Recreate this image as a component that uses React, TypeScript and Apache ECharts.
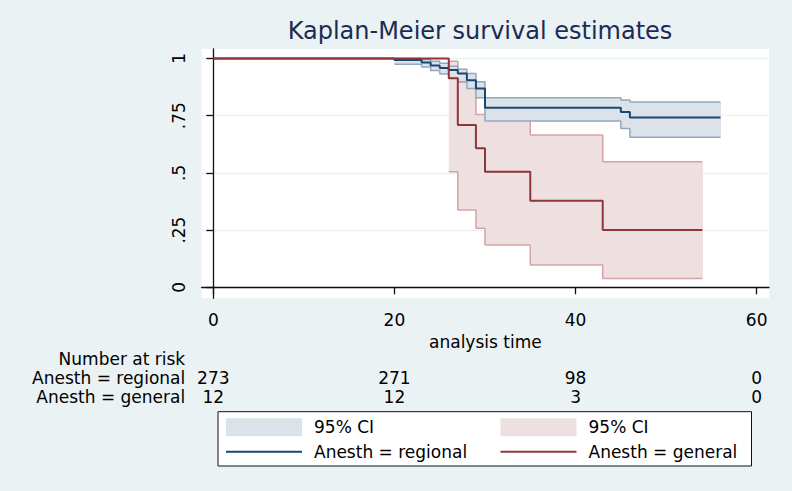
import React, { useEffect, useRef } from "react";
import * as echarts from "echarts";

// ---- data ----
const xTickValues = [0, 20, 40, 60];
const yTickValues = [0, 0.25, 0.5, 0.75, 1];
const yTickLabels = ["0", ".25", ".5", ".75", "1"];

const regionalTime = [0, 20, 23, 24, 25, 26, 27, 28, 29, 30, 45, 46, 56];
const regionalSurv = [1, 0.993, 0.982, 0.969, 0.958, 0.949, 0.934, 0.905, 0.869, 0.784, 0.766, 0.742, 0.742];
const regionalCiTime = [20, 23, 24, 25, 26, 27, 28, 29, 30, 45, 46, 56];
const regionalLower = [0.974, 0.962, 0.947, 0.932, 0.913, 0.898, 0.869, 0.828, 0.727, 0.694, 0.655, 0.655];
const regionalUpper = [0.999, 0.995, 0.988, 0.979, 0.966, 0.953, 0.934, 0.898, 0.828, 0.818, 0.81, 0.81];

const generalTime = [0, 26, 27, 29, 30, 35, 43, 54];
const generalSurv = [1, 0.913, 0.709, 0.607, 0.505, 0.378, 0.25, 0.25];
const generalCiTime = [26, 27, 29, 30, 35, 43, 54];
const generalLower = [0.505, 0.338, 0.258, 0.185, 0.097, 0.039, 0.039];
const generalUpper = [0.988, 0.898, 0.755, 0.752, 0.665, 0.548, 0.548];

const riskTimes = [0, 20, 40, 60];
const regionalAtRisk = [273, 271, 98, 0];
const generalAtRisk = [12, 12, 3, 0];

const rowLabels = ["Anesth = regional", "Anesth = general"];

// ---- styling ----
const FONT = "'DejaVu Sans', sans-serif";
const BG = "#eaf2f3";
const NAVY = "#1a476f";
const MAROON = "#90353b";
const BLUE_FILL = "#dce2ea";
const BLUE_EDGE = "#93a8c0";
const PINK_FILL = "#eedfe0";
const PINK_EDGE = "#d5a2a6";

const pairs = (xs: number[], ys: number[]) => xs.map((x, i) => [x, ys[i]]);
const bandCells = (xs: number[], lo: number[], hi: number[]) =>
  xs.slice(0, -1).map((x, i) => [x, xs[i + 1], lo[i], hi[i]]);

const X_MIN = -1.28;
const X_MAX = 61.36;
const LINE_ICON = "path://M0,0L76,0L76,2L0,2Z";

export default function App() {
  const ref = useRef<HTMLDivElement>(null);
  useEffect(() => {
    if (!ref.current) return;
    const chart = echarts.init(ref.current, null, { renderer: "svg" });
    const textBase = { fontFamily: FONT, fontSize: 17, color: "#000" };
    const riskAxis = (offset: number, name: string, values: number[] | null) => ({
      type: "value",
      gridIndex: 0,
      position: "bottom",
      offset,
      min: X_MIN,
      max: X_MAX,
      name,
      nameLocation: "start",
      nameGap: 16.5,
      nameTextStyle: { ...textBase, align: "right", verticalAlign: "middle" },
      axisLine: { show: false },
      axisTick: { show: false },
      splitLine: { show: false },
      axisLabel: values
        ? {
            show: true,
            customValues: riskTimes,
            margin: 0,
            verticalAlign: "middle",
            ...textBase,
            formatter: (v: number) => String(values[riskTimes.indexOf(v)]),
          }
        : { show: false },
    });

    const band = (name: string, fill: string, z: number, xs: number[], lo: number[], hi: number[]) => ({
      name,
      type: "custom",
      z,
      silent: true,
      itemStyle: { color: fill },
      encode: { x: [0, 1], y: [2, 3] },
      data: bandCells(xs, lo, hi),
      renderItem: (_p: any, api: any) => {
        const a = api.coord([api.value(0), api.value(3)]);
        const b = api.coord([api.value(1), api.value(2)]);
        return {
          type: "rect",
          shape: { x: a[0], y: a[1], width: b[0] - a[0] + 0.6, height: b[1] - a[1] },
          style: { fill, stroke: null },
        };
      },
    });
    const edge = (name: string, color: string, z: number, xs: number[], ys: number[]) => ({
      name,
      type: "line",
      step: "end",
      symbol: "none",
      silent: true,
      z,
      data: pairs(xs, ys),
      lineStyle: { color, width: 1.5 },
      itemStyle: { color },
    });

    chart.setOption({
      animation: false,
      backgroundColor: BG,
      title: {
        text: "Kaplan-Meier survival estimates",
        left: 480,
        top: 19,
        textAlign: "center",
        padding: 0,
        textStyle: { fontFamily: FONT, fontSize: 24, fontWeight: "normal", color: "#1c2b55" },
      },
      grid: {
        left: 201.7,
        right: 23,
        top: 49,
        bottom: 192.7,
        show: true,
        backgroundColor: "#ffffff",
        borderWidth: 0,
        containLabel: false,
      },
      xAxis: [
        {
          type: "value",
          min: X_MIN,
          max: X_MAX,
          name: "analysis time",
          nameLocation: "middle",
          nameGap: 26,
          nameTextStyle: { ...textBase },
          axisLine: { show: true, lineStyle: { color: "#111", width: 1.3 } },
          axisTick: { show: true, customValues: xTickValues, length: 7, lineStyle: { color: "#111", width: 1.3 } },
          axisLabel: { show: true, customValues: xTickValues, margin: 13, ...textBase },
          splitLine: { show: false },
        },
        riskAxis(60.8, "Number at risk", null),
        riskAxis(79.8, rowLabels[0], regionalAtRisk),
        riskAxis(98.8, rowLabels[1], generalAtRisk),
      ],
      yAxis: {
        type: "value",
        min: -0.048,
        max: 1.041,
        axisLine: { show: true, lineStyle: { color: "#111", width: 1.3 } },
        axisTick: { show: true, customValues: yTickValues, length: 7, lineStyle: { color: "#111", width: 1.3 } },
        axisLabel: {
          show: true,
          customValues: yTickValues,
          rotate: 90,
          margin: 14,
          ...textBase,
          formatter: (v: number) => yTickLabels[yTickValues.indexOf(v)] ?? "",
        },
        splitLine: { show: true, lineStyle: { color: BG, width: 1.3 } },
      },
      legend: {
        left: 218,
        top: 411.7,
        width: 520,
        orient: "horizontal",
        padding: [6.5, 8, 5.3, 8],
        itemWidth: 76,
        itemHeight: 18,
        itemGap: 6.5,
        borderColor: "#111",
        borderWidth: 1,
        backgroundColor: "#ffffff",
        selectedMode: false,
        textStyle: { ...textBase, lineHeight: 18, padding: [0, 0, 0, 7] },
        formatter: (name: string) => (name.startsWith("ci") ? "95% CI" : name),
        data: [
          { name: "ciRegional", icon: "rect", itemStyle: { color: BLUE_FILL, borderWidth: 0 }, textStyle: { width: 180 } },
          { name: "ciGeneral", icon: "rect", itemStyle: { color: PINK_FILL, borderWidth: 0 }, textStyle: { width: 155 } },
          { name: rowLabels[0], icon: LINE_ICON, itemStyle: { color: NAVY, borderWidth: 0 }, textStyle: { width: 180 } },
          { name: rowLabels[1], icon: LINE_ICON, itemStyle: { color: MAROON, borderWidth: 0 }, textStyle: { width: 155 } },
        ],
      },
      series: [
        band("ciGeneral", PINK_FILL, 2, generalCiTime, generalLower, generalUpper),
        edge("genLow", PINK_EDGE, 3, generalCiTime, generalLower),
        edge("genUp", PINK_EDGE, 3, generalCiTime, generalUpper),
        band("ciRegional", BLUE_FILL, 4, regionalCiTime, regionalLower, regionalUpper),
        edge("regLow", BLUE_EDGE, 5, regionalCiTime, regionalLower),
        edge("regUp", BLUE_EDGE, 5, regionalCiTime, regionalUpper),
        {
          name: rowLabels[0],
          type: "line",
          step: "end",
          symbol: "none",
          z: 6,
          data: pairs(regionalTime, regionalSurv),
          lineStyle: { color: NAVY, width: 2 },
          itemStyle: { color: NAVY },
        },
        {
          name: rowLabels[1],
          type: "line",
          step: "end",
          symbol: "none",
          z: 7,
          data: pairs(generalTime, generalSurv),
          lineStyle: { color: MAROON, width: 2 },
          itemStyle: { color: MAROON },
        },
      ],
    });
    return () => chart.dispose();
  }, []);
  return (
    <div
      ref={ref}
      style={{ position: "absolute", left: 0, top: 0, width: 792, height: 491 }}
    />
  );
}
